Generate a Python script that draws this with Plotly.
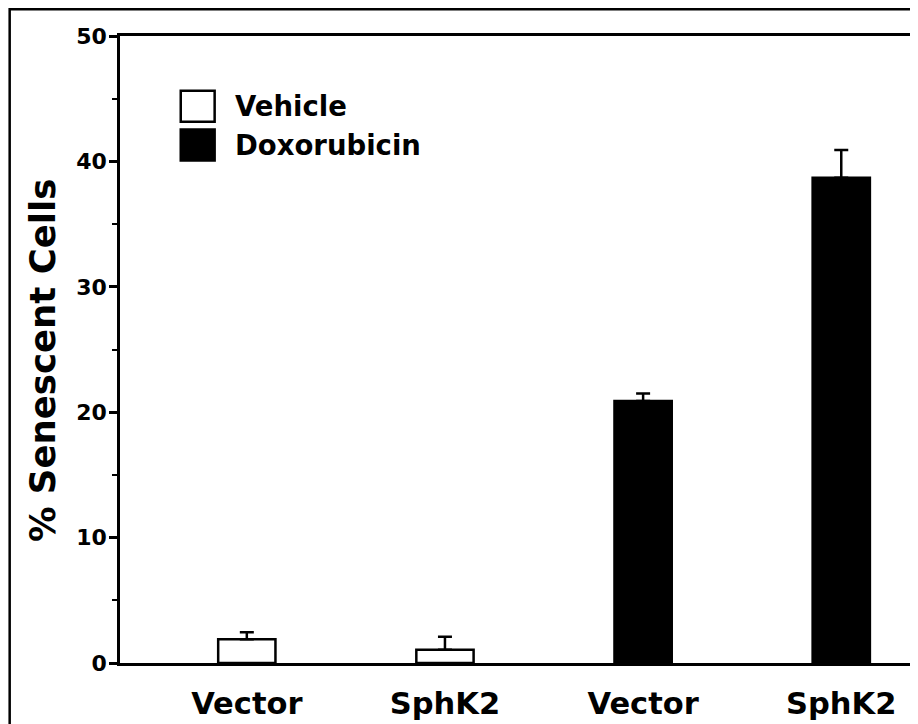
import plotly.graph_objects as go

# ---- data ----
tick_labels = ["Vector", "SphK2", "Vector", "SphK2"]
vehicle_x = [0, 1]
vehicle_vals = [1.9, 1.05]
vehicle_err = [0.55, 1.05]
doxo_x = [2, 3]
doxo_vals = [20.9, 38.7]
doxo_err = [0.6, 2.2]
legend_labels = ["Vehicle", "Doxorubicin"]
y_title = "% Senescent Cells"

FONT = "DejaVu Sans"
BAR_W = 0.289

fig = go.Figure()
fig.add_trace(go.Bar(
    x=vehicle_x, y=vehicle_vals, width=BAR_W, name=legend_labels[0],
    marker=dict(color="white", line=dict(color="black", width=2.5)),
    error_y=dict(type="data", symmetric=False, array=vehicle_err,
                 arrayminus=[0] * len(vehicle_err), color="black",
                 thickness=2.5, width=7),
    showlegend=False,
))
fig.add_trace(go.Bar(
    x=doxo_x, y=doxo_vals, width=BAR_W, name=legend_labels[1],
    marker=dict(color="black", line=dict(color="black", width=2.5)),
    error_y=dict(type="data", symmetric=False, array=doxo_err,
                 arrayminus=[0] * len(doxo_err), color="black",
                 thickness=2.5, width=7),
    showlegend=False,
))

# manual legend (large squares)
leg_fills = ["white", "black"]
leg_y = [(0.9126, 0.8634), (0.8507, 0.8014)]
for lab, fill, (y1, y0) in zip(legend_labels, leg_fills, leg_y):
    fig.add_shape(type="rect", xref="paper", yref="paper",
                  x0=0.0767, x1=0.1195, y0=y0, y1=y1,
                  fillcolor=fill, line=dict(color="black", width=2.5))
    fig.add_annotation(xref="paper", yref="paper", x=0.1422, y=(y0 + y1) / 2,
                       xanchor="left", yanchor="middle", showarrow=False,
                       text=lab, font=dict(family=FONT, size=27.5, color="black", weight="bold"))

# y-axis title
fig.add_annotation(xref="paper", yref="paper", x=-0.0981, y=0.482,
                   xanchor="center", yanchor="middle", showarrow=False, textangle=-90,
                   text=y_title, font=dict(family=FONT, size=35.5, color="black", weight="bold"))

# outer frame
fig.add_shape(type="rect", xref="paper", yref="paper",
              x0=-0.1393, x1=1.03, y0=-0.13, y1=1.0425,
              line=dict(color="black", width=2.5), fillcolor="rgba(0,0,0,0)", layer="above")

fig.update_layout(
    width=910, height=716,
    margin=dict(l=112, r=3, t=28, b=58),
    paper_bgcolor="white", plot_bgcolor="white",
    barmode="overlay",
    font=dict(family=FONT, color="black"),
)
fig.update_xaxes(
    range=[-0.64, 3.357], tickvals=[0, 1, 2, 3], ticktext=tick_labels,
    showgrid=False, zeroline=False, showline=True, linecolor="black", linewidth=2.5,
    mirror=True, ticks="", ticklabelstandoff=12,
    tickfont=dict(family=FONT, size=30.5, color="black", weight="bold"),
)
fig.update_yaxes(
    range=[0, 50], tickvals=[0, 10, 20, 30, 40, 50],
    showgrid=False, zeroline=False, showline=True, linecolor="black", linewidth=2.5,
    mirror=True, ticks="outside", ticklen=8, tickwidth=2.5, tickcolor="black",
    ticklabelstandoff=-2,
    minor=dict(tickvals=[5, 15, 25, 35, 45], ticks="outside", ticklen=5, tickwidth=2, tickcolor="black"),
    tickfont=dict(family=FONT, size=22, color="black", weight="bold"),
)

fig.write_html("out.html")
